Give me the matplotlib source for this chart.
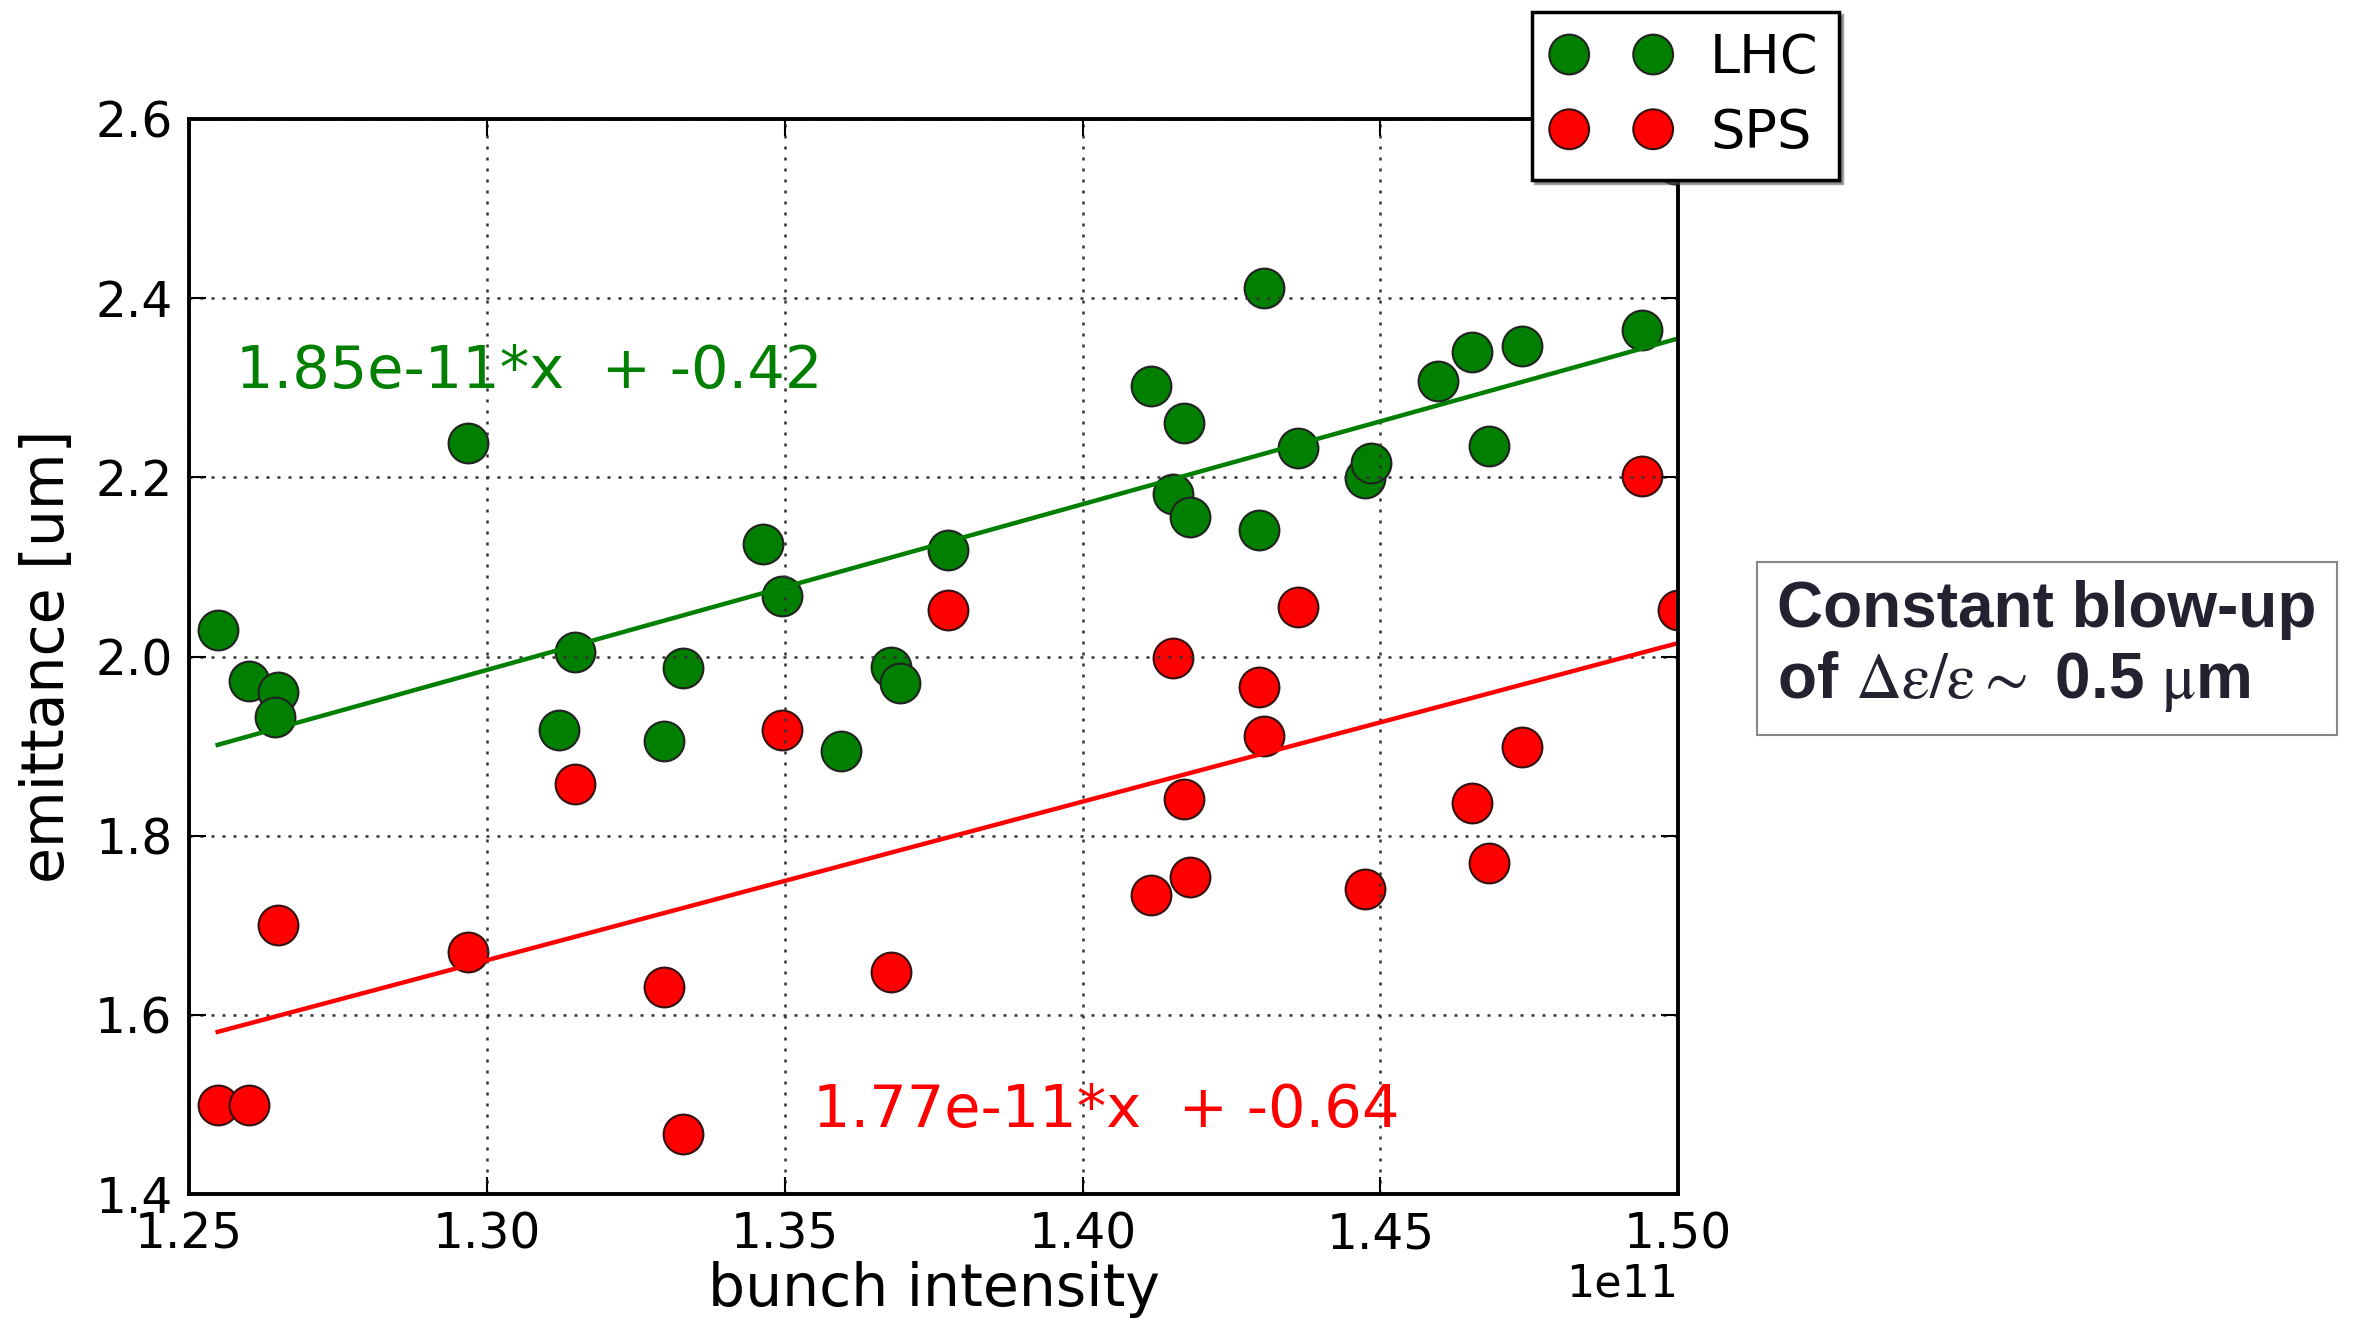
import numpy as np
import matplotlib.pyplot as plt

# bunch intensity [protons] and emittance [um] measured in the LHC and SPS
lhc_intensity = [1.2548, 1.2601, 1.2649, 1.2644, 1.2969, 1.3121, 1.3148, 1.3297,
                 1.3330, 1.3464, 1.3496, 1.3595, 1.3678, 1.3693, 1.3774, 1.4115,
                 1.4170, 1.4152, 1.4180, 1.4296, 1.4304, 1.4362, 1.4475, 1.4485,
                 1.4596, 1.4654, 1.4682, 1.4738, 1.4939, 1.4995]
lhc_emittance = [2.030, 1.973, 1.960, 1.933, 2.238, 1.918, 2.005, 1.906,
                 1.987, 2.126, 2.067, 1.894, 1.988, 1.970, 2.119, 2.302,
                 2.261, 2.181, 2.156, 2.141, 2.411, 2.233, 2.199, 2.216,
                 2.307, 2.340, 2.235, 2.347, 2.365, 2.550]

sps_intensity = [1.2548, 1.2601, 1.2649, 1.2969, 1.3148, 1.3297, 1.3330, 1.3496,
                 1.3678, 1.3774, 1.4115, 1.4152, 1.4170, 1.4180, 1.4296, 1.4304,
                 1.4362, 1.4475, 1.4654, 1.4682, 1.4738, 1.4939, 1.5000]
sps_emittance = [1.499, 1.499, 1.700, 1.670, 1.858, 1.631, 1.467, 1.918,
                 1.648, 2.052, 1.734, 1.998, 1.841, 1.754, 1.966, 1.911,
                 2.055, 1.740, 1.836, 1.769, 1.899, 2.201, 2.052]

# linear fit results (slope, offset)
lhc_fit = (1.85e-11, -0.42)
sps_fit = (1.77e-11, -0.64)

lhc_x = np.array(lhc_intensity) * 1e11
sps_x = np.array(sps_intensity) * 1e11

plt.rcParams["mathtext.fontset"] = "stix"

fig = plt.figure(figsize=(23.55, 13.22), dpi=100)
ax = fig.add_axes([0.0803, 0.0968, 0.6323, 0.8132])

ax.scatter(lhc_x, lhc_emittance, s=820, c="#007f00", edgecolors="#222222",
           linewidths=1.5, label="LHC", zorder=1)
ax.scatter(sps_x, sps_emittance, s=820, c="#ff0000", edgecolors="#331111",
           linewidths=1.5, label="SPS", zorder=1)

xl = np.array([lhc_x.min(), lhc_x.max()])
ax.plot(xl, lhc_fit[0] * xl + lhc_fit[1], color="#007f00", lw=3.2, zorder=2)
xs = np.array([sps_x.min(), sps_x.max()])
ax.plot(xs, sps_fit[0] * xs + sps_fit[1], color="#ff0000", lw=3.2, zorder=2)

ax.text(1.2578e11, 2.300, "%.2fe-11*x  + %.2f" % (lhc_fit[0] * 1e11, lhc_fit[1]),
        color="#007f00", fontsize=42.5, va="baseline")
ax.text(1.3547e11, 1.475, "%.2fe-11*x  + %.2f" % (sps_fit[0] * 1e11, sps_fit[1]),
        color="#ff0000", fontsize=42.5, va="baseline")

ax.set_xlim(1.25e11, 1.50e11)
ax.set_ylim(1.4, 2.6)
ax.set_xticks(np.arange(1.25e11, 1.5001e11, 0.05e11))
ax.set_yticks(np.arange(1.4, 2.601, 0.2))
ax.grid(True, linestyle=(0, (1.2, 3.2)), color="#333333", linewidth=1.8)
ax.tick_params(direction="in", length=12, width=1.5, labelsize=35,
               top=True, right=True, pad=12)
ax.xaxis.get_offset_text().set_fontsize(32)
for sp in ax.spines.values():
    sp.set_linewidth(2.8)

ax.set_xlabel("bunch intensity", fontsize=42, labelpad=2)
ax.set_ylabel("emittance [um]", fontsize=42, labelpad=14)

leg = ax.legend(loc="upper right", bbox_to_anchor=(0.781, 0.991),
                bbox_transform=fig.transFigure, scatterpoints=2,
                scatteryoffsets=[0.5], handlelength=2.15, fontsize=39,
                fancybox=False, shadow=True, framealpha=1, edgecolor="k",
                borderpad=0.38, labelspacing=0.42, handletextpad=0.75,
                borderaxespad=0)
leg.get_frame().set_linewidth(2.5)
leg.set_zorder(5)

fig.text(0.7546, 0.5106,
         "Constant blow-up\nof $\\mathrm{\\Delta\\varepsilon/\\varepsilon\\sim}$ 0.5 $\\mathrm{\\mu}$m",
         fontsize=46, fontweight="bold", family="Liberation Sans",
         color="#222230", va="center", ha="left", linespacing=1.2,
         bbox=dict(boxstyle="square,pad=0.32", facecolor="white",
                   edgecolor="#888888", linewidth=1.5))

fig.savefig("out.png", dpi=100)
plt.close(fig)
